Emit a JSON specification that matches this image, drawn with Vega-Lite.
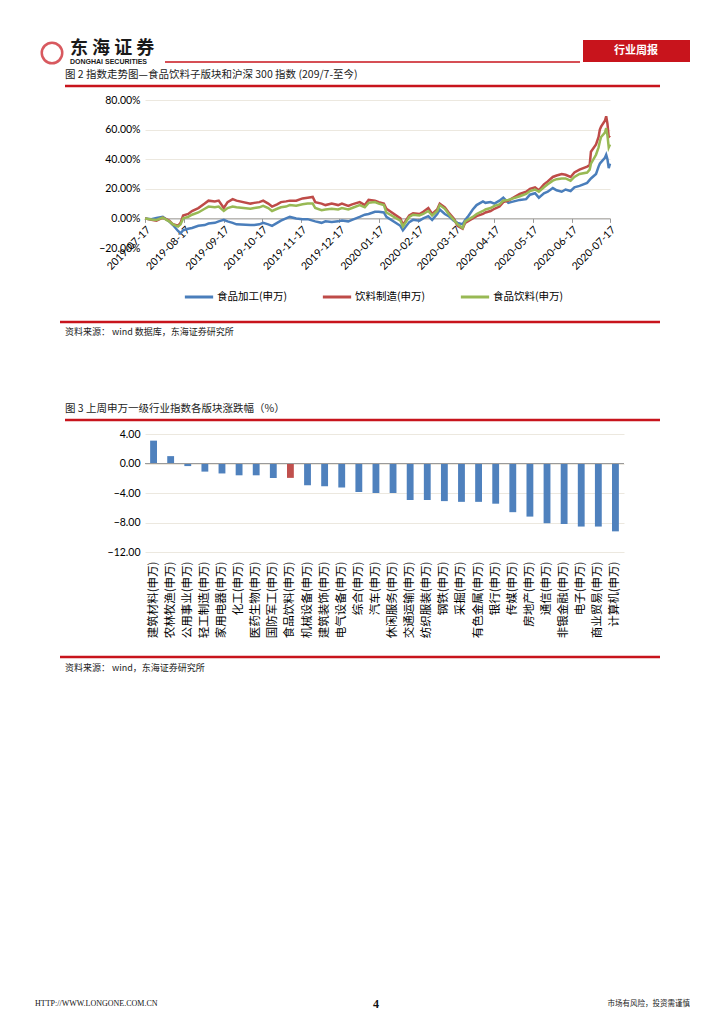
{
  "$schema": "https://vega.github.io/schema/vega-lite/v6.json",
  "background": "white",
  "padding": {"left": 35, "top": 30, "right": 0, "bottom": 0},
  "spacing": 0,
  "config": {"view": {"stroke": null}, "font": "Lato", "axis": {"labelOverlap": false}},
  "vconcat": [
    {
      "width": 545, "height": 65,
      "data": {"values": [{}]},
      "layer": [
        {"mark": {"type": "point", "shape": "circle", "filled": false, "stroke": "#c8141c", "strokeWidth": 2.5, "size": 420},
         "encoding": {"x": {"datum": 52, "type": "quantitative", "scale": {"domain": [145, 690], "nice": false, "zero": false}, "axis": null},
                      "y": {"datum": 53, "type": "quantitative", "scale": {"domain": [30, 95], "nice": false, "zero": false, "reverse": true}, "axis": null}}},
        {"mark": {"type": "text", "text": "东 海 证 券", "align": "left", "baseline": "middle", "fontSize": 18, "fontWeight": "bold", "font": "Noto Sans CJK SC", "color": "#1a1a1a"},
         "encoding": {"x": {"datum": 70, "type": "quantitative", "scale": {"domain": [145, 690], "nice": false, "zero": false}, "axis": null},
                      "y": {"datum": 49, "type": "quantitative", "scale": {"domain": [30, 95], "nice": false, "zero": false, "reverse": true}, "axis": null}}},
        {"mark": {"type": "text", "text": "DONGHAI SECURITIES", "align": "left", "baseline": "middle", "fontSize": 7, "fontWeight": "bold", "font": "Liberation Sans", "color": "#1a1a1a"},
         "encoding": {"x": {"datum": 70, "type": "quantitative", "scale": {"domain": [145, 690], "nice": false, "zero": false}, "axis": null},
                      "y": {"datum": 62, "type": "quantitative", "scale": {"domain": [30, 95], "nice": false, "zero": false, "reverse": true}, "axis": null}}},
        {"mark": {"type": "rule", "color": "#c8141c", "strokeWidth": 1.5},
         "encoding": {"x": {"datum": 165, "type": "quantitative", "scale": {"domain": [145, 690], "nice": false, "zero": false}, "axis": null},
                      "x2": {"datum": 580},
                      "y": {"datum": 62, "type": "quantitative", "scale": {"domain": [30, 95], "nice": false, "zero": false, "reverse": true}, "axis": null}}},
        {"mark": {"type": "rect", "color": "#c8141c"},
         "encoding": {"x": {"datum": 583, "type": "quantitative", "scale": {"domain": [145, 690], "nice": false, "zero": false}, "axis": null},
                      "x2": {"datum": 690},
                      "y": {"datum": 40, "type": "quantitative", "scale": {"domain": [30, 95], "nice": false, "zero": false, "reverse": true}, "axis": null},
                      "y2": {"datum": 62}}},
        {"mark": {"type": "text", "text": "行业周报", "align": "center", "baseline": "middle", "fontSize": 11, "fontWeight": "bold", "font": "Noto Sans CJK SC", "color": "white"},
         "encoding": {"x": {"datum": 636, "type": "quantitative", "scale": {"domain": [145, 690], "nice": false, "zero": false}, "axis": null},
                      "y": {"datum": 51, "type": "quantitative", "scale": {"domain": [30, 95], "nice": false, "zero": false, "reverse": true}, "axis": null}}},
        {"mark": {"type": "text", "text": "图 2   指数走势图—食品饮料子版块和沪深 300 指数 (209/7-至今)", "align": "left", "baseline": "middle", "fontSize": 10.5, "font": "Noto Sans CJK SC", "color": "#222"},
         "encoding": {"x": {"datum": 65, "type": "quantitative", "scale": {"domain": [145, 690], "nice": false, "zero": false}, "axis": null},
                      "y": {"datum": 75, "type": "quantitative", "scale": {"domain": [30, 95], "nice": false, "zero": false, "reverse": true}, "axis": null}}},
        {"mark": {"type": "rule", "color": "#c8141c", "strokeWidth": 2.5},
         "encoding": {"x": {"datum": 65, "type": "quantitative", "scale": {"domain": [145, 690], "nice": false, "zero": false}, "axis": null},
                      "x2": {"datum": 660},
                      "y": {"datum": 86, "type": "quantitative", "scale": {"domain": [30, 95], "nice": false, "zero": false, "reverse": true}, "axis": null}}}
      ]
    },
    {
      "width": 465, "height": 148,
      "data": {"values": [
        {"date": "2019-07-17", "食品加工(申万)": 0, "饮料制造(申万)": 0, "食品饮料(申万)": 0},
        {"date": "2019-07-22", "食品加工(申万)": -0.5, "饮料制造(申万)": -1, "食品饮料(申万)": -0.8},
        {"date": "2019-07-26", "食品加工(申万)": 0.3, "饮料制造(申万)": -1.5, "食品饮料(申万)": -1},
        {"date": "2019-07-31", "食品加工(申万)": 1, "饮料制造(申万)": 0.5, "食品饮料(申万)": 0.5},
        {"date": "2019-08-05", "食品加工(申万)": -2, "饮料制造(申万)": -1.5, "食品饮料(申万)": -2},
        {"date": "2019-08-08", "食品加工(申万)": -4.5, "饮料制造(申万)": -4, "食品饮料(申万)": -4},
        {"date": "2019-08-12", "食品加工(申万)": -8.5, "饮料制造(申万)": -5, "食品饮料(申万)": -5.5},
        {"date": "2019-08-14", "食品加工(申万)": -10, "饮料制造(申万)": -3, "食品饮料(申万)": -4},
        {"date": "2019-08-16", "食品加工(申万)": -8, "饮料制造(申万)": 2, "食品饮料(申万)": 0},
        {"date": "2019-08-20", "食品加工(申万)": -7, "饮料制造(申万)": 3, "食品饮料(申万)": 1},
        {"date": "2019-08-23", "食品加工(申万)": -6.5, "饮料制造(申万)": 5, "食品饮料(申万)": 2.5},
        {"date": "2019-08-28", "食品加工(申万)": -5, "饮料制造(申万)": 7, "食品饮料(申万)": 4},
        {"date": "2019-09-02", "食品加工(申万)": -4.5, "饮料制造(申万)": 10, "食品饮料(申万)": 6.5},
        {"date": "2019-09-05", "食品加工(申万)": -3.5, "饮料制造(申万)": 12, "食品饮料(申万)": 8},
        {"date": "2019-09-10", "食品加工(申万)": -3, "饮料制造(申万)": 11.5, "食品饮料(申万)": 7.5},
        {"date": "2019-09-13", "食品加工(申万)": -2, "饮料制造(申万)": 12, "食品饮料(申万)": 8},
        {"date": "2019-09-17", "食品加工(申万)": -1, "饮料制造(申万)": 7, "食品饮料(申万)": 5},
        {"date": "2019-09-20", "食品加工(申万)": -2, "饮料制造(申万)": 11, "食品饮料(申万)": 7},
        {"date": "2019-09-24", "食品加工(申万)": -3, "饮料制造(申万)": 13, "食品饮料(申万)": 8},
        {"date": "2019-09-27", "食品加工(申万)": -4, "饮料制造(申万)": 12, "食品饮料(申万)": 7.5},
        {"date": "2019-10-08", "食品加工(申万)": -4.5, "饮料制造(申万)": 10, "食品饮料(申万)": 6.5},
        {"date": "2019-10-11", "食品加工(申万)": -4.5, "饮料制造(申万)": 10.5, "食品饮料(申万)": 7},
        {"date": "2019-10-15", "食品加工(申万)": -4, "饮料制造(申万)": 11, "食品饮料(申万)": 7.5},
        {"date": "2019-10-18", "食品加工(申万)": -3, "饮料制造(申万)": 12, "食品饮料(申万)": 8.5},
        {"date": "2019-10-22", "食品加工(申万)": -4, "饮料制造(申万)": 10, "食品饮料(申万)": 7},
        {"date": "2019-10-25", "食品加工(申万)": -5, "饮料制造(申万)": 8, "食品饮料(申万)": 5},
        {"date": "2019-10-29", "食品加工(申万)": -3, "饮料制造(申万)": 9.5, "食品饮料(申万)": 6.5},
        {"date": "2019-11-01", "食品加工(申万)": -1.5, "饮料制造(申万)": 11, "食品饮料(申万)": 7.5},
        {"date": "2019-11-05", "食品加工(申万)": 0, "饮料制造(申万)": 11.5, "食品饮料(申万)": 8},
        {"date": "2019-11-08", "食品加工(申万)": 1, "饮料制造(申万)": 12, "食品饮料(申万)": 9},
        {"date": "2019-11-13", "食品加工(申万)": 0, "饮料制造(申万)": 12, "食品饮料(申万)": 8.5},
        {"date": "2019-11-18", "食品加工(申万)": -0.5, "饮料制造(申万)": 13.5, "食品饮料(申万)": 9.5},
        {"date": "2019-11-22", "食品加工(申万)": -0.5, "饮料制造(申万)": 14, "食品饮料(申万)": 10},
        {"date": "2019-11-26", "食品加工(申万)": -1.5, "饮料制造(申万)": 14.5, "食品饮料(申万)": 10},
        {"date": "2019-11-28", "食品加工(申万)": -2, "饮料制造(申万)": 11, "食品饮料(申万)": 7},
        {"date": "2019-12-03", "食品加工(申万)": -3, "饮料制造(申万)": 10, "食品饮料(申万)": 5.5},
        {"date": "2019-12-06", "食品加工(申万)": -2, "饮料制造(申万)": 9, "食品饮料(申万)": 6},
        {"date": "2019-12-11", "食品加工(申万)": -2.5, "饮料制造(申万)": 10, "食品饮料(申万)": 6.5},
        {"date": "2019-12-16", "食品加工(申万)": -2, "饮料制造(申万)": 9, "食品饮料(申万)": 6},
        {"date": "2019-12-19", "食品加工(申万)": -1.5, "饮料制造(申万)": 10, "食品饮料(申万)": 7},
        {"date": "2019-12-24", "食品加工(申万)": -2, "饮料制造(申万)": 8.5, "食品饮料(申万)": 6},
        {"date": "2019-12-27", "食品加工(申万)": -1, "饮料制造(申万)": 9.5, "食品饮料(申万)": 7},
        {"date": "2020-01-02", "食品加工(申万)": 1, "饮料制造(申万)": 11, "食品饮料(申万)": 9},
        {"date": "2020-01-06", "食品加工(申万)": 2.5, "饮料制造(申万)": 9, "食品饮料(申万)": 7.5},
        {"date": "2020-01-09", "食品加工(申万)": 3, "饮料制造(申万)": 12.5, "食品饮料(申万)": 10.5},
        {"date": "2020-01-14", "食品加工(申万)": 4.5, "饮料制造(申万)": 12, "食品饮料(申万)": 11},
        {"date": "2020-01-17", "食品加工(申万)": 4.5, "饮料制造(申万)": 11, "食品饮料(申万)": 10},
        {"date": "2020-01-21", "食品加工(申万)": 4, "饮料制造(申万)": 10, "食品饮料(申万)": 9},
        {"date": "2020-01-23", "食品加工(申万)": 1, "饮料制造(申万)": 6.5, "食品饮料(申万)": 4},
        {"date": "2020-02-03", "食品加工(申万)": -5, "饮料制造(申万)": 0, "食品饮料(申万)": -1.5},
        {"date": "2020-02-05", "食品加工(申万)": -8, "饮料制造(申万)": -4.5, "食品饮料(申万)": -5.5},
        {"date": "2020-02-10", "食品加工(申万)": -2.5, "饮料制造(申万)": 2, "食品饮料(申万)": 1},
        {"date": "2020-02-13", "食品加工(申万)": -1, "饮料制造(申万)": 3.5, "食品饮料(申万)": 2.5},
        {"date": "2020-02-18", "食品加工(申万)": -1.5, "饮料制造(申万)": 3, "食品饮料(申万)": 2},
        {"date": "2020-02-21", "食品加工(申万)": 0, "饮料制造(申万)": 4.5, "食品饮料(申万)": 3},
        {"date": "2020-02-25", "食品加工(申万)": 1.5, "饮料制造(申万)": 7, "食品饮料(申万)": 5},
        {"date": "2020-02-28", "食品加工(申万)": -1, "饮料制造(申万)": 3, "食品饮料(申万)": 2},
        {"date": "2020-03-03", "食品加工(申万)": 3, "饮料制造(申万)": 6, "食品饮料(申万)": 5},
        {"date": "2020-03-05", "食品加工(申万)": 6, "饮料制造(申万)": 10, "食品饮料(申万)": 9},
        {"date": "2020-03-09", "食品加工(申万)": 3, "饮料制造(申万)": 7.5, "食品饮料(申万)": 6.5},
        {"date": "2020-03-12", "食品加工(申万)": 1.5, "饮料制造(申万)": 4, "食品饮料(申万)": 3},
        {"date": "2020-03-16", "食品加工(申万)": -1.5, "饮料制造(申万)": 0, "食品饮料(申万)": -1},
        {"date": "2020-03-19", "食品加工(申万)": -3, "饮料制造(申万)": -5, "食品饮料(申万)": -4},
        {"date": "2020-03-23", "食品加工(申万)": -4, "饮料制造(申万)": -7, "食品饮料(申万)": -6.5},
        {"date": "2020-03-25", "食品加工(申万)": -1, "饮料制造(申万)": -3, "食品饮料(申万)": -2},
        {"date": "2020-03-27", "食品加工(申万)": 1, "饮料制造(申万)": -2, "食品饮料(申万)": -1},
        {"date": "2020-03-31", "食品加工(申万)": 6, "饮料制造(申万)": 0, "食品饮料(申万)": 1},
        {"date": "2020-04-03", "食品加工(申万)": 9, "饮料制造(申万)": 1.5, "食品饮料(申万)": 3},
        {"date": "2020-04-08", "食品加工(申万)": 11.5, "饮料制造(申万)": 3, "食品饮料(申万)": 5},
        {"date": "2020-04-10", "食品加工(申万)": 10.5, "饮料制造(申万)": 4, "食品饮料(申万)": 6},
        {"date": "2020-04-14", "食品加工(申万)": 11, "饮料制造(申万)": 5, "食品饮料(申万)": 7},
        {"date": "2020-04-17", "食品加工(申万)": 10, "饮料制造(申万)": 6.5, "食品饮料(申万)": 8.5},
        {"date": "2020-04-21", "食品加工(申万)": 12, "饮料制造(申万)": 8, "食品饮料(申万)": 9.5},
        {"date": "2020-04-24", "食品加工(申万)": 14, "饮料制造(申万)": 11, "食品饮料(申万)": 12},
        {"date": "2020-04-28", "食品加工(申万)": 10.5, "饮料制造(申万)": 12, "食品饮料(申万)": 12.5},
        {"date": "2020-04-30", "食品加工(申万)": 11, "饮料制造(申万)": 13, "食品饮料(申万)": 13},
        {"date": "2020-05-07", "食品加工(申万)": 12.5, "饮料制造(申万)": 16.5, "食品饮料(申万)": 15},
        {"date": "2020-05-12", "食品加工(申万)": 13, "饮料制造(申万)": 18, "食品饮料(申万)": 16.5},
        {"date": "2020-05-15", "食品加工(申万)": 16, "饮料制造(申万)": 20, "食品饮料(申万)": 18.5},
        {"date": "2020-05-19", "食品加工(申万)": 17, "饮料制造(申万)": 21, "食品饮料(申万)": 19.5},
        {"date": "2020-05-22", "食品加工(申万)": 14, "饮料制造(申万)": 19, "食品饮料(申万)": 18},
        {"date": "2020-05-26", "食品加工(申万)": 17, "饮料制造(申万)": 23, "食品饮料(申万)": 21},
        {"date": "2020-05-29", "食品加工(申万)": 18, "饮料制造(申万)": 25, "食品饮料(申万)": 23},
        {"date": "2020-06-02", "食品加工(申万)": 20.5, "饮料制造(申万)": 28, "食品饮料(申万)": 25.5},
        {"date": "2020-06-05", "食品加工(申万)": 19, "饮料制造(申万)": 29, "食品饮料(申万)": 26.5},
        {"date": "2020-06-09", "食品加工(申万)": 18, "饮料制造(申万)": 30, "食品饮料(申万)": 27},
        {"date": "2020-06-12", "食品加工(申万)": 19.5, "饮料制造(申万)": 29.5, "食品饮料(申万)": 27},
        {"date": "2020-06-16", "食品加工(申万)": 18.5, "饮料制造(申万)": 28, "食品饮料(申万)": 25.5},
        {"date": "2020-06-19", "食品加工(申万)": 21, "饮料制造(申万)": 31, "食品饮料(申万)": 28},
        {"date": "2020-06-23", "食品加工(申万)": 22, "饮料制造(申万)": 33, "食品饮料(申万)": 30},
        {"date": "2020-06-29", "食品加工(申万)": 24, "饮料制造(申万)": 35, "食品饮料(申万)": 31},
        {"date": "2020-07-01", "食品加工(申万)": 26, "饮料制造(申万)": 36, "食品饮料(申万)": 33},
        {"date": "2020-07-02", "食品加工(申万)": 27, "饮料制造(申万)": 45, "食品饮料(申万)": 37},
        {"date": "2020-07-06", "食品加工(申万)": 30, "饮料制造(申万)": 50, "食品饮料(申万)": 43},
        {"date": "2020-07-08", "食品加工(申万)": 35, "饮料制造(申万)": 55, "食品饮料(申万)": 48},
        {"date": "2020-07-09", "食品加工(申万)": 37, "饮料制造(申万)": 60, "食品饮料(申万)": 52},
        {"date": "2020-07-10", "食品加工(申万)": 38, "饮料制造(申万)": 62, "食品饮料(申万)": 55},
        {"date": "2020-07-13", "食品加工(申万)": 41, "饮料制造(申万)": 66, "食品饮料(申万)": 58},
        {"date": "2020-07-14", "食品加工(申万)": 43, "饮料制造(申万)": 69, "食品饮料(申万)": 61},
        {"date": "2020-07-15", "食品加工(申万)": 40, "饮料制造(申万)": 64, "食品饮料(申万)": 56},
        {"date": "2020-07-16", "食品加工(申万)": 34, "饮料制造(申万)": 55, "食品饮料(申万)": 48},
        {"date": "2020-07-17", "食品加工(申万)": 37, "饮料制造(申万)": 56, "食品饮料(申万)": 50}
      ]},
      "transform": [{"fold": ["食品加工(申万)", "饮料制造(申万)", "食品饮料(申万)"], "as": ["series", "value"]}],
      "mark": {"type": "line", "strokeWidth": 2.5},
      "encoding": {
        "x": {"field": "date", "type": "temporal",
              "scale": {"type": "utc", "domain": [{"year": 2019, "month": 7, "date": 17, "utc": true}, {"year": 2020, "month": 7, "date": 17, "utc": true}]},
              "axis": {"title": null, "format": "%Y-%m-%d", "labelAngle": -45, "offset": -29.6, "grid": false,
                       "values": [
                         {"year": 2019, "month": 7, "date": 17, "utc": true}, {"year": 2019, "month": 8, "date": 17, "utc": true},
                         {"year": 2019, "month": 9, "date": 17, "utc": true}, {"year": 2019, "month": 10, "date": 17, "utc": true},
                         {"year": 2019, "month": 11, "date": 17, "utc": true}, {"year": 2019, "month": 12, "date": 17, "utc": true},
                         {"year": 2020, "month": 1, "date": 17, "utc": true}, {"year": 2020, "month": 2, "date": 17, "utc": true},
                         {"year": 2020, "month": 3, "date": 17, "utc": true}, {"year": 2020, "month": 4, "date": 17, "utc": true},
                         {"year": 2020, "month": 5, "date": 17, "utc": true}, {"year": 2020, "month": 6, "date": 17, "utc": true},
                         {"year": 2020, "month": 7, "date": 17, "utc": true}],
                       "domainColor": "#9a9a9a", "tickColor": "#9a9a9a", "tickSize": 4, "labelFontSize": 10.5, "labelColor": "#000",
                       "labelFont": "Lato", "labelOverlap": false, "labelFlush": false, "labelBound": false, "labelPadding": 2}},
        "y": {"field": "value", "type": "quantitative",
              "scale": {"domain": [-20, 80], "nice": false},
              "axis": {"title": null, "values": [-20, 0, 20, 40, 60, 80], "labelExpr": "format(datum.value, '.2f') + '%'",
                       "grid": true, "gridColor": "#ece8df", "gridOpacity": {"condition": {"test": "datum.value === -20", "value": 0}, "value": 1},
                       "domain": false, "ticks": false, "labelPadding": 5, "minExtent": 110, "labelOverlap": false,
                       "labelFontSize": 10.5, "labelColor": "#000", "labelFont": "Lato"}},
        "color": {"field": "series", "type": "nominal",
                  "scale": {"domain": ["食品加工(申万)", "饮料制造(申万)", "食品饮料(申万)"], "range": ["#4A7EBB", "#BE4B48", "#98B954"]},
                  "legend": {"title": null, "orient": "none", "legendX": 38, "legendY": 251, "direction": "horizontal",
                             "symbolType": "stroke", "symbolStrokeWidth": 3, "symbolSize": 800, "columnPadding": 28,
                             "labelFont": "Noto Sans CJK SC", "labelFontSize": 10.5, "labelColor": "#000", "labelOffset": 2}}
      }
    },
    {
      "width": 545, "height": 157,
      "data": {"values": [{}]},
      "layer": [
        {"mark": {"type": "rule", "color": "#c8141c", "strokeWidth": 2.5},
         "encoding": {"x": {"datum": 60, "type": "quantitative", "scale": {"domain": [145, 690], "nice": false, "zero": false}, "axis": null},
                      "x2": {"datum": 660},
                      "y": {"datum": 323, "type": "quantitative", "scale": {"domain": [273, 430], "nice": false, "zero": false, "reverse": true}, "axis": null}}},
        {"mark": {"type": "text", "text": "资料来源：  wind 数据库，东海证券研究所", "align": "left", "baseline": "middle", "fontSize": 9, "font": "Noto Sans CJK SC", "color": "#222"},
         "encoding": {"x": {"datum": 65, "type": "quantitative", "scale": {"domain": [145, 690], "nice": false, "zero": false}, "axis": null},
                      "y": {"datum": 333, "type": "quantitative", "scale": {"domain": [273, 430], "nice": false, "zero": false, "reverse": true}, "axis": null}}},
        {"mark": {"type": "text", "text": "图 3   上周申万一级行业指数各版块涨跌幅（%）", "align": "left", "baseline": "middle", "fontSize": 10.5, "font": "Noto Sans CJK SC", "color": "#222"},
         "encoding": {"x": {"datum": 65, "type": "quantitative", "scale": {"domain": [145, 690], "nice": false, "zero": false}, "axis": null},
                      "y": {"datum": 410, "type": "quantitative", "scale": {"domain": [273, 430], "nice": false, "zero": false, "reverse": true}, "axis": null}}},
        {"mark": {"type": "rule", "color": "#c8141c", "strokeWidth": 2.5},
         "encoding": {"x": {"datum": 65, "type": "quantitative", "scale": {"domain": [145, 690], "nice": false, "zero": false}, "axis": null},
                      "x2": {"datum": 660},
                      "y": {"datum": 421, "type": "quantitative", "scale": {"domain": [273, 430], "nice": false, "zero": false, "reverse": true}, "axis": null}}}
      ]
    },
    {
      "width": 479, "height": 118,
      "data": {"values": [
        {"name": "建筑材料(申万)", "v": 3.1},
        {"name": "农林牧渔(申万)", "v": 1.0},
        {"name": "公用事业(申万)", "v": -0.35},
        {"name": "轻工制造(申万)", "v": -1.1},
        {"name": "家用电器(申万)", "v": -1.35},
        {"name": "化工(申万)", "v": -1.6},
        {"name": "医药生物(申万)", "v": -1.6},
        {"name": "国防军工(申万)", "v": -1.95},
        {"name": "食品饮料(申万)", "v": -1.95},
        {"name": "机械设备(申万)", "v": -2.95},
        {"name": "建筑装饰(申万)", "v": -3.1},
        {"name": "电气设备(申万)", "v": -3.25},
        {"name": "综合(申万)", "v": -3.85},
        {"name": "汽车(申万)", "v": -4.0},
        {"name": "休闲服务(申万)", "v": -4.0},
        {"name": "交通运输(申万)", "v": -4.95},
        {"name": "纺织服装(申万)", "v": -4.95},
        {"name": "钢铁(申万)", "v": -5.1},
        {"name": "采掘(申万)", "v": -5.2},
        {"name": "有色金属(申万)", "v": -5.2},
        {"name": "银行(申万)", "v": -5.45},
        {"name": "传媒(申万)", "v": -6.6},
        {"name": "房地产(申万)", "v": -7.2},
        {"name": "通信(申万)", "v": -8.1},
        {"name": "非银金融(申万)", "v": -8.2},
        {"name": "电子(申万)", "v": -8.55},
        {"name": "商业贸易(申万)", "v": -8.55},
        {"name": "计算机(申万)", "v": -9.2}
      ]},
      "layer": [
        {"mark": {"type": "bar"},
         "encoding": {
           "x": {"field": "name", "type": "nominal", "sort": null,
                 "scale": {"paddingInner": 0.6, "paddingOuter": 0.3},
                 "axis": {"title": null, "labelAngle": -90, "domain": false, "ticks": false, "labelPadding": 9,
                          "labelFont": "Noto Sans CJK SC", "labelFontSize": 11.5, "labelColor": "#000", "labelLimit": 0}},
           "y": {"field": "v", "type": "quantitative", "scale": {"domain": [-12, 4], "nice": false},
                 "axis": {"title": null, "values": [-12, -8, -4, 0, 4], "format": ".2f", "grid": true, "gridColor": "#ece8df",
                          "domain": false, "ticks": false, "labelPadding": 5, "minExtent": 107, "labelOverlap": false,
                          "labelFontSize": 10.5, "labelColor": "#000", "labelFont": "Lato"}},
           "color": {"condition": {"test": "datum.name === '食品饮料(申万)'", "value": "#C0504D"}, "value": "#4F81BD"}
         }},
        {"mark": {"type": "rule", "color": "#9a9a9a", "strokeWidth": 1},
         "encoding": {"y": {"datum": 0, "type": "quantitative",
                            "axis": {"title": null, "values": [-12, -8, -4, 0, 4], "format": ".2f", "grid": true, "gridColor": "#ece8df",
                                     "domain": false, "ticks": false, "labelPadding": 5, "minExtent": 107, "labelOverlap": false,
                                     "labelFontSize": 10.5, "labelColor": "#000", "labelFont": "Lato"}}}}
      ]
    },
    {
      "width": 545, "height": 380,
      "data": {"values": [{}]},
      "layer": [
        {"mark": {"type": "rule", "color": "#c8141c", "strokeWidth": 2.5},
         "encoding": {"x": {"datum": 60, "type": "quantitative", "scale": {"domain": [145, 690], "nice": false, "zero": false}, "axis": null},
                      "x2": {"datum": 660},
                      "y": {"datum": 654, "type": "quantitative", "scale": {"domain": [635, 1015], "nice": false, "zero": false, "reverse": true}, "axis": null}}},
        {"mark": {"type": "text", "text": "资料来源：  wind，东海证券研究所", "align": "left", "baseline": "middle", "fontSize": 9, "font": "Noto Sans CJK SC", "color": "#222"},
         "encoding": {"x": {"datum": 65, "type": "quantitative", "scale": {"domain": [145, 690], "nice": false, "zero": false}, "axis": null},
                      "y": {"datum": 665, "type": "quantitative", "scale": {"domain": [635, 1015], "nice": false, "zero": false, "reverse": true}, "axis": null}}},
        {"mark": {"type": "text", "text": "HTTP://WWW.LONGONE.COM.CN", "align": "left", "baseline": "middle", "fontSize": 8, "font": "Liberation Sans Narrow", "color": "#111"},
         "encoding": {"x": {"datum": 35, "type": "quantitative", "scale": {"domain": [145, 690], "nice": false, "zero": false}, "axis": null},
                      "y": {"datum": 1001, "type": "quantitative", "scale": {"domain": [635, 1015], "nice": false, "zero": false, "reverse": true}, "axis": null}}},
        {"mark": {"type": "text", "text": "4", "align": "center", "baseline": "middle", "fontSize": 12, "fontWeight": "bold", "font": "Liberation Serif", "color": "#111"},
         "encoding": {"x": {"datum": 376, "type": "quantitative", "scale": {"domain": [145, 690], "nice": false, "zero": false}, "axis": null},
                      "y": {"datum": 1001, "type": "quantitative", "scale": {"domain": [635, 1015], "nice": false, "zero": false, "reverse": true}, "axis": null}}},
        {"mark": {"type": "text", "text": "市场有风险，投资需谨慎", "align": "right", "baseline": "middle", "fontSize": 7.5, "font": "Noto Sans CJK SC", "color": "#222"},
         "encoding": {"x": {"datum": 690, "type": "quantitative", "scale": {"domain": [145, 690], "nice": false, "zero": false}, "axis": null},
                      "y": {"datum": 1001, "type": "quantitative", "scale": {"domain": [635, 1015], "nice": false, "zero": false, "reverse": true}, "axis": null}}}
      ]
    }
  ]
}
